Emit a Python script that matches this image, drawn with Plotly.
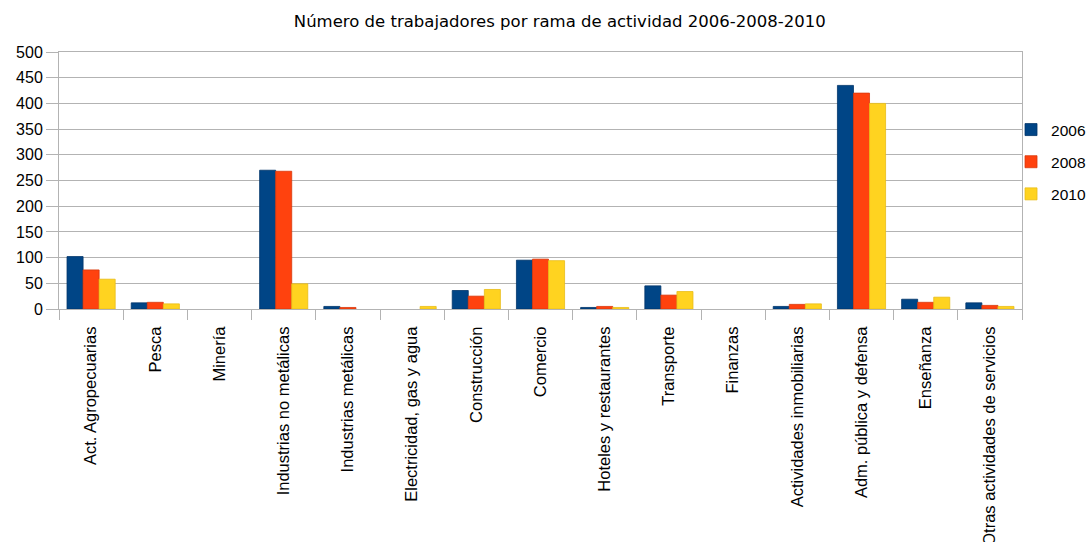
import plotly.graph_objects as go

categories = [
    "Act. Agropecuarias", "Pesca", "Minería", "Industrias no metálicas",
    "Industrias metálicas", "Electricidad, gas y agua", "Construcción",
    "Comercio", "Hoteles y restaurantes", "Transporte", "Finanzas",
    "Actividades inmobiliarias", "Adm. pública y defensa", "Enseñanza",
    "Otras actividades de servicios",
]
v2006 = [102, 12, 0, 270, 5, 0, 36, 95, 3, 45, 0, 5, 435, 19, 12]
v2008 = [76, 13, 0, 268, 3, 0, 25, 97, 5, 27, 0, 9, 420, 13, 7]
v2010 = [58, 10, 0, 49, 0, 5, 38, 94, 3, 34, 0, 10, 400, 23, 5]
series_names = ["2006", "2008", "2010"]
y_ticks = [0, 50, 100, 150, 200, 250, 300, 350, 400, 450, 500]

colors = ["#004586", "#ff420e", "#ffd320"]
edges = ["#00356a", "#d8380c", "#e8bd18"]

fig = go.Figure()
for i, (name, vals) in enumerate(zip(series_names, [v2006, v2008, v2010])):
    fig.add_trace(go.Bar(
        x=categories, y=vals, name=name, legendgroup=name,
        marker=dict(color=colors[i],
                    line=dict(color=edges[i],
                              width=[0.8 if v > 0 else 0 for v in vals])),
    ))

font_family = "Liberation Sans, Arial, sans-serif"
fig.update_layout(
    width=1089, height=542,
    paper_bgcolor="white", plot_bgcolor="white",
    barmode="group", bargap=0.25, bargroupgap=0,
    margin=dict(l=59, r=67, t=52, b=233, autoexpand=False),
    font=dict(family=font_family, size=16, color="#000000"),
    title=dict(
        text="Número de trabajadores por rama de actividad 2006-2008-2010",
        x=0.514, xanchor="center", y=0.96, yanchor="middle",
        font=dict(family="DejaVu Sans, sans-serif", size=16.5, color="#000000"),
    ),
    legend=dict(
        x=0.9886, xanchor="left", y=0.572, yanchor="middle",
        font=dict(family=font_family, size=15.5),
        tracegroupgap=9, bgcolor="rgba(0,0,0,0)",
    ),
    xaxis=dict(
        type="category", tickangle=-90, tickson="boundaries",
        ticks="outside", ticklen=10, tickcolor="#b3b3b3",
        ticklabelstandoff=10,
        showline=True, linecolor="#b3b3b3", linewidth=1, mirror=True,
        showgrid=False, automargin=False,
        tickfont=dict(family=font_family, size=16.5),
    ),
    yaxis=dict(
        range=[0, 500], tickvals=y_ticks, ticktext=[str(t) for t in y_ticks],
        ticks="outside", ticklen=12, tickcolor="#b3b3b3",
        showgrid=True, gridcolor="#b3b3b3", gridwidth=1,
        showline=True, linecolor="#b3b3b3", linewidth=1, mirror=True,
        zeroline=False, automargin=False,
        tickfont=dict(family=font_family, size=16),
    ),
)

fig.write_html(
    "out.html",
    config={"displayModeBar": False},
    post_script="document.body.style.margin='0';document.body.style.overflow='hidden';",
)
